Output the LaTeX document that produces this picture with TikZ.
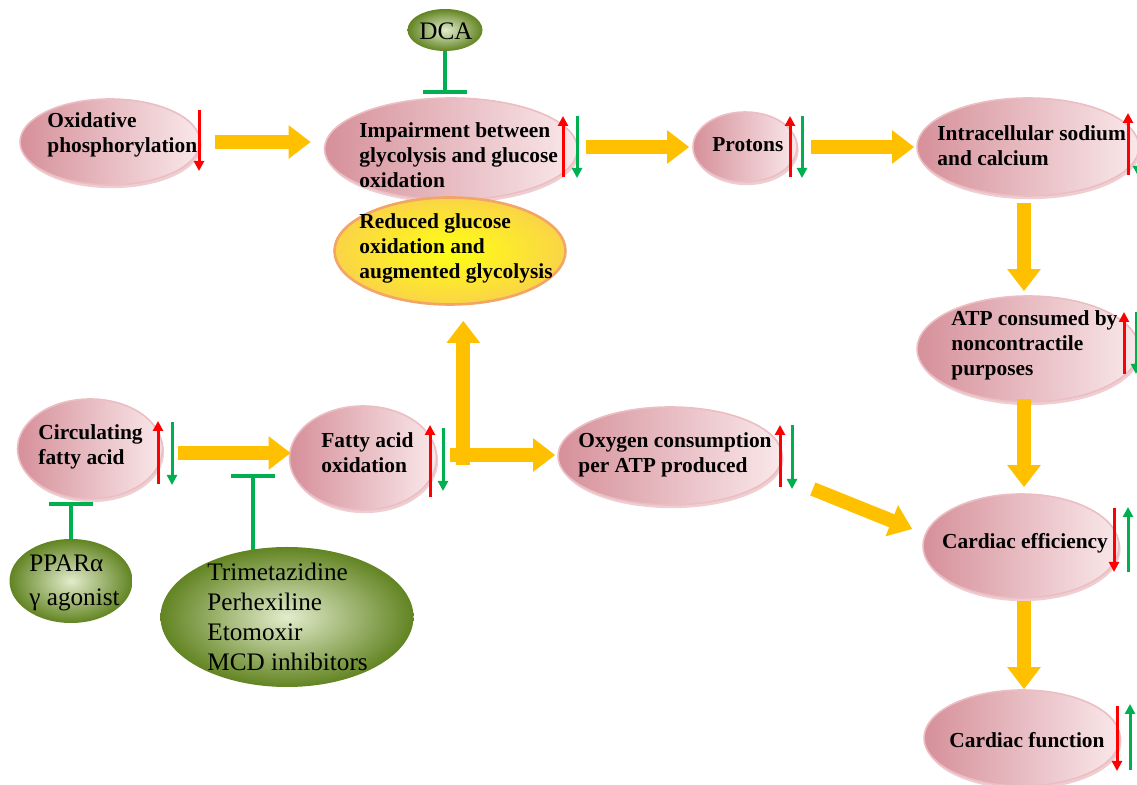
\documentclass[tikz,border=0pt]{standalone}
\usepackage{fontspec}
\setmainfont{Liberation Serif}
\usetikzlibrary{shapes.geometric,arrows.meta,calc,shadows}
\definecolor{ay}{RGB}{255,192,0}
\definecolor{ig}{RGB}{0,176,80}
\definecolor{rr}{RGB}{255,0,0}
\definecolor{pinkL}{RGB}{214,144,154}
\definecolor{pinkR}{RGB}{249,232,234}
\definecolor{pinkE}{RGB}{236,190,195}
\definecolor{pinkS}{RGB}{232,185,190}
\definecolor{gIn}{RGB}{226,236,204}
\definecolor{gOut}{RGB}{98,132,34}
\definecolor{yIn}{RGB}{255,255,20}
\definecolor{yOut}{RGB}{250,212,70}
\definecolor{yEdge}{RGB}{242,165,100}
\pgfdeclarelayer{bg}\pgfsetlayers{bg,main}
\begin{document}
\begin{tikzpicture}[x=0.5pt,y=-0.5pt,
 sz/.style 2 args={minimum width=#1*0.5pt, minimum height=#2*0.5pt},
 pinkell/.style={ellipse, inner sep=0, left color=pinkL, right color=pinkR, draw=pinkE, line width=0.8pt,
   drop shadow={shadow xshift=0.8pt, shadow yshift=-1.6pt, fill=pinkS, opacity=0.7}},
 greenell/.style={ellipse, inner sep=0, inner color=gIn, outer color=gOut},
 yelell/.style={ellipse, inner sep=0, inner color=yIn, outer color=yOut, draw=yEdge, line width=1.3pt},
 lbl/.style={font=\bfseries\fontsize{10.7}{12.5}\selectfont, align=left, inner sep=0, anchor=west},
 dlbl/.style={font=\fontsize{12.6}{14.9}\selectfont, align=left, inner sep=0, anchor=west},
 flow/.style={draw=ay, line width=7pt, -{Triangle[length=11pt,width=16pt]}},
 inh/.style={draw=ig, line width=2pt, -{Bar[width=22pt]}},
 incr/.style={draw=rr, line width=1.5pt, -{Triangle[length=5pt,width=5pt]}},
 incg/.style={draw=ig, line width=1.5pt, -{Triangle[length=5pt,width=5pt]}},
]
\useasboundingbox (0,0) rectangle (1137,785);

% ellipses
\node[pinkell, sz={180}{86}] (oxp) at (110,142) {};
\node[pinkell, sz={253}{102}] (imp) at (451,149) {};
\node[yelell, sz={231}{107}] (red) at (450,251) {};
\node[pinkell, sz={104}{70}] (prot) at (745,147) {};
\node[pinkell, sz={222}{98}] (ics) at (1028,147) {};
\node[pinkell, sz={222}{106}] (atp) at (1028,349) {};
\node[pinkell, sz={196}{104}] (eff) at (1021,546) {};
\node[pinkell, sz={196}{96}] (fun) at (1022,738) {};
\node[pinkell, sz={145}{100}] (circ) at (90,449) {};
\node[pinkell, sz={147}{104}] (fao) at (363,458) {};
\node[pinkell, sz={224}{98}] (oxy) at (670,456) {};
\node[greenell, sz={123}{84}] (ppar) at (71,581) {};
\node[greenell, sz={253}{140}] (trim) at (287,617) {};
\node[greenell, sz={75}{42}] (dca) at (445,30) {};

% labels
\node[lbl] (toxp) at (47,135) {Oxidative\\phosphorylation};
\node[lbl] (timp) at (359,155) {Impairment between\\glycolysis and glucose\\oxidation};
\node[lbl] (tred) at (359,248) {Reduced glucose\\oxidation and\\augmented glycolysis};
\node[lbl] (tprot) at (712,145) {Protons};
\node[lbl] (tics) at (937,146) {Intracellular sodium\\and calcium};
\node[lbl] (tatp) at (951,345) {ATP consumed by\\noncontractile\\purposes};
\node[lbl, anchor=center] (teff) at (1025,543) {Cardiac efficiency};
\node[lbl, anchor=center] (tfun) at (1027,740) {Cardiac function};
\node[lbl] (tcirc) at (38,447) {Circulating\\fatty acid};
\node[lbl] (tfao) at (321,453) {Fatty acid\\oxidation};
\node[lbl] (toxy) at (578,455) {Oxygen consumption\\per ATP produced};
\node[dlbl] (tppar) at (29,583) {PPARα\\[2pt]γ agonist};
\node[dlbl] (ttrim) at (207,617) {Trimetazidine\\Perhexiline\\Etomoxir\\MCD inhibitors};
\node[dlbl, anchor=center] (tdca) at (446,31) {DCA};

% flow arrows
\coordinate (col) at (1024,0);
\draw[flow] ([xshift=7pt]oxp.east) -- ([xshift=-6.5pt]imp.west |- oxp.east);
\draw[flow] ([xshift=3.75pt]imp.east |- prot) -- ([xshift=-1.5pt]prot.west);
\draw[flow] ([xshift=6.5pt]prot.east) -- ([xshift=-1pt]ics.west |- prot.east);
\draw[flow] ([yshift=-3pt]ics.south -| col) -- ([yshift=2pt]atp.north -| col);
\draw[flow] ([yshift=2pt]atp.south -| col) -- ([yshift=3pt]eff.north -| col);
\draw[flow] ([yshift=-1pt]eff.south -| col) -- (fun.north -| col);
\draw[flow] ([xshift=7.5pt,yshift=-2pt]circ.east) -- ([xshift=1pt]fao.west |- 0,453);
\coordinate (fork) at ([xshift=13pt]fao.east);
\draw[flow] ([xshift=6.5pt,yshift=1.5pt]fao.east) -- ([xshift=-1pt]oxy.west |- 0,455);
\draw[flow] ([yshift=-3.5pt]fork) -- ([yshift=-7.5pt]fork |- red.south);
\draw[flow] ($(oxy.east)+(30,33)$) -- ($(eff.west)+(-10,-17)$);

% inhibitors
\draw[inh] (dca.south) -- ([yshift=1.5pt]dca |- imp.north);
\draw[inh] (ppar.north) -- ([yshift=-1pt]ppar |- circ.south);
\coordinate (tbar) at (253,474);
\begin{pgfonlayer}{bg}
\draw[inh] (tbar |- trim) -- (tbar);
\end{pgfonlayer}

% up / down indicators
\draw[incr] (199,110) -- (199,171);
\draw[incr] (563,177) -- (563,116);
\draw[incg] (577,116) -- (577,178);
\draw[incr] (790,177) -- (790,116);
\draw[incg] (802,116) -- (802,178);
\draw[incr] (1128,175) -- (1128,113);
\draw[incg] (1138,113) -- (1138,176);
\draw[incr] (1124,374) -- (1124,312);
\draw[incg] (1136,312) -- (1136,374);
\draw[incr] (1114,508) -- (1114,572);
\draw[incg] (1128,572) -- (1128,507);
\draw[incr] (1117,706) -- (1117,771);
\draw[incg] (1130,770) -- (1130,704);
\draw[incr] (158,484) -- (158,421);
\draw[incg] (172,422) -- (172,485);
\draw[incr] (430,497) -- (430,425);
\draw[incg] (443,428) -- (443,491);
\draw[incr] (780,487) -- (780,425);
\draw[incg] (792,425) -- (792,489);
\end{tikzpicture}
\end{document}
